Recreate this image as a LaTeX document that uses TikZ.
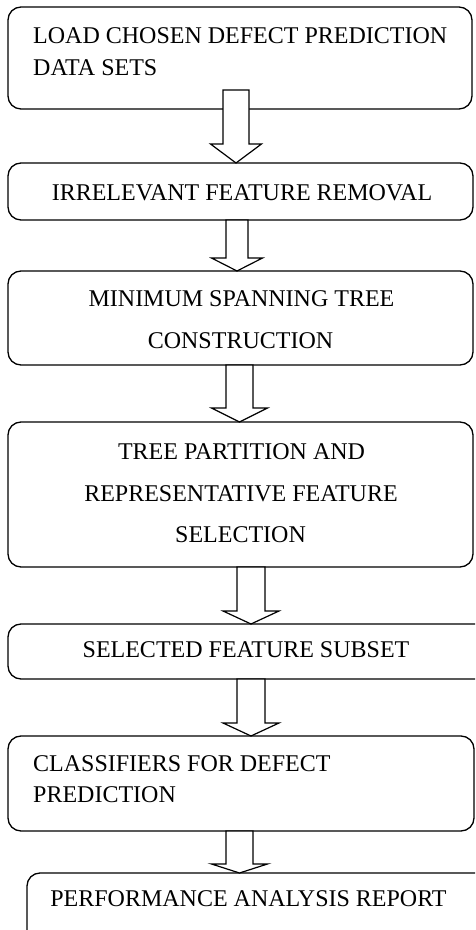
\documentclass[tikz,border=0pt]{standalone}
\usepackage{fontspec}
\setmainfont{Liberation Serif}
\usetikzlibrary{calc}

\tikzset{
  stagebox/.style={draw=black, line width=1.3pt, rounded corners=13pt, fill=white,
    inner sep=0pt, outer sep=0pt},
  stagetext/.style={font=\fontsize{24}{28}\selectfont, inner sep=0pt, text=black},
  hollowarrow/.style={draw=black, line width=1.2pt, fill=white, line join=miter}
}

% block arrow: #1 from node, #2 to node, #3 x centre, #4 half shaft width,
% #5 half head width, #6 head length, #7 how far the shaft starts inside #1
\newcommand\blockarrow[7]{%
  \draw[hollowarrow] let \p1=(#1.south), \p2=(#2.north) in
    (#3pt-#4pt, \y1+#7pt) -- (#3pt-#4pt, \y2+#6pt) -- (#3pt-#5pt, \y2+#6pt)
    -- (#3pt, \y2) -- (#3pt+#5pt, \y2+#6pt) -- (#3pt+#4pt, \y2+#6pt)
    -- (#3pt+#4pt, \y1+#7pt) -- cycle;}

\begin{document}
\begin{tikzpicture}[x=1pt, y=1pt]
\useasboundingbox (0,0) rectangle (475,930);
\begin{scope}
\clip (0,0) rectangle (475,930);

% stages (y measured upwards from the bottom edge)
\node[stagebox, minimum width=464pt, minimum height=102pt] (b1) at (240,872) {};
\node[stagebox, minimum width=465pt, minimum height=57pt]  (b2) at (240.5,738.5) {};
\node[stagebox, minimum width=465pt, minimum height=94pt]  (b3) at (240.5,612) {};
\node[stagebox, minimum width=465pt, minimum height=145pt] (b4) at (240.5,435.5) {};
\node[stagebox, minimum width=487pt, minimum height=55pt]  (b5) at (251.5,278.5) {};
\node[stagebox, minimum width=466pt, minimum height=95pt]  (b6) at (241,146.5) {};
\node[stagebox, minimum width=463pt, minimum height=72pt]  (b7) at (258.5,21) {};

% labels
\node[stagetext, anchor=base west] (t1a) at (33,886) {LOAD CHOSEN DEFECT PREDICTION};
\node[stagetext, anchor=base west] (t1b) at (33,854.7) {DATA SETS};
\node[stagetext, anchor=base] (t2) at (242,729) {IRRELEVANT FEATURE REMOVAL};
\node[stagetext, anchor=base] (t3a) at (241.5,623) {MINIMUM SPANNING TREE};
\node[stagetext, anchor=base] (t3b) at (240.5,581) {CONSTRUCTION};
\node[stagetext, anchor=base] (t4a) at (241.5,470) {TREE PARTITION AND};
\node[stagetext, anchor=base] (t4b) at (241,428.3) {REPRESENTATIVE FEATURE};
\node[stagetext, anchor=base] (t4c) at (240.5,387) {SELECTION};
\node[stagetext, anchor=base] (t5) at (246,272) {SELECTED FEATURE SUBSET};
\node[stagetext, anchor=base west] (t6a) at (33,158.3) {CLASSIFIERS FOR DEFECT};
\node[stagetext, anchor=base west] (t6b) at (33,127) {PREDICTION};
\node[stagetext, anchor=base] (t7) at (248.5,23.3) {PERFORMANCE ANALYSIS REPORT};

% hollow arrows between stages
\blockarrow{b1}{b2}{236}{13}{25.5}{19}{19}
\blockarrow{b2}{b3}{237}{11}{25.5}{13}{0}
\blockarrow{b3}{b4}{239.5}{13.5}{28}{14}{0}
\blockarrow{b4}{b5}{251}{14}{28}{13}{0}
\blockarrow{b5}{b6}{251}{14}{28}{13}{0}
\blockarrow{b6}{b7}{239.5}{13.5}{28}{9}{0}
\end{scope}
\end{tikzpicture}
\end{document}
